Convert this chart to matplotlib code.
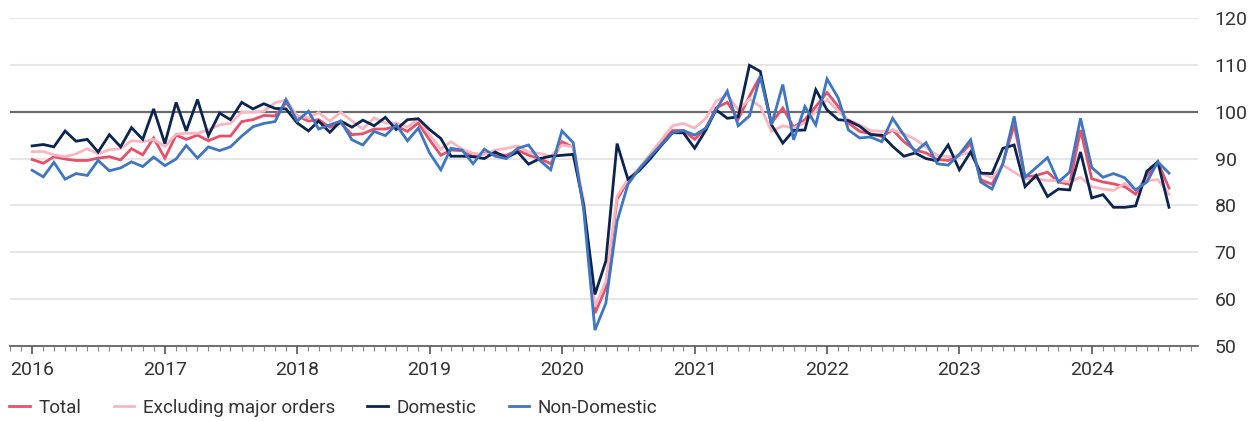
import matplotlib
matplotlib.use("Agg")
import matplotlib.dates as mdates
import pandas as pd
from matplotlib import pyplot

plt = pyplot
plt.rcParams['font.family'] = ['Roboto', 'DejaVu Sans']

# monthly index values, Jan 2016 - Aug 2024
months = pd.date_range("2016-01-01", periods=104, freq="MS")

total = [89.8, 89.0, 90.4, 89.9, 89.6, 89.6, 90.1, 90.4, 89.7, 92.1, 90.8, 94.4,
         90.1, 95.0, 94.1, 95.0, 93.8, 94.8, 94.8, 97.9, 98.3, 99.2, 99.1, 101.9,
         99.1, 98.0, 98.3, 96.7, 97.6, 95.1, 95.3, 96.3, 96.3, 96.9, 95.8, 97.6,
         94.0, 90.7, 91.8, 91.7, 90.4, 91.1, 90.9, 90.7, 91.8, 90.7, 90.0, 88.9,
         93.6, 92.4, 80.0, 57.0, 62.4, 81.3, 85.2, 87.6, 90.2, 93.5, 96.0, 96.0,
         94.1, 96.5, 100.8, 102.0, 98.4, 103.3, 107.6, 97.6, 100.8, 96.7, 98.3, 101.1,
         104.1, 101.1, 97.6, 95.8, 95.3, 94.7, 96.1, 93.6, 91.8, 91.2, 89.8, 89.6,
         90.7, 93.2, 85.5, 84.5, 88.9, 97.2, 86.0, 86.4, 87.1, 85.0, 84.5, 96.1,
         85.7, 85.0, 84.6, 84.0, 82.4, 86.4, 89.3, 83.7]

excl_major = [91.5, 91.5, 90.8, 90.4, 91.0, 92.1, 91.0, 91.9, 92.1, 93.8, 93.6, 94.1,
              92.6, 95.2, 95.4, 95.4, 96.1, 97.2, 97.5, 99.9, 99.9, 100.1, 101.9, 102.5,
              99.1, 98.7, 99.8, 98.0, 99.9, 98.0, 96.3, 98.7, 97.6, 97.6, 96.7, 98.5,
              95.1, 92.0, 93.6, 92.0, 91.1, 90.9, 91.8, 92.2, 92.7, 91.4, 91.1, 90.5,
              92.9, 92.5, 81.0, 58.4, 63.8, 82.0, 85.5, 88.0, 91.0, 94.0, 97.0, 97.5,
              96.5, 98.6, 102.2, 103.6, 100.4, 102.7, 101.1, 95.8, 97.0, 96.5, 97.7, 100.1,
              102.6, 100.1, 98.3, 97.2, 96.0, 95.8, 96.1, 95.3, 94.1, 92.5, 90.7, 90.4,
              90.7, 91.4, 86.8, 86.0, 88.6, 87.1, 85.7, 85.7, 85.3, 85.3, 85.0, 86.0,
              84.0, 83.5, 83.2, 84.7, 83.2, 85.3, 85.5, 82.4]

domestic = [92.7, 93.0, 92.5, 95.9, 93.7, 94.1, 91.4, 95.1, 92.5, 96.6, 94.1, 100.6,
            93.2, 102.0, 95.9, 102.6, 94.9, 99.7, 98.3, 102.0, 100.6, 101.7, 100.7, 100.6,
            97.6, 95.9, 98.0, 95.6, 98.0, 96.7, 98.2, 97.0, 98.8, 96.2, 98.3, 98.5,
            96.2, 94.3, 90.5, 90.5, 90.4, 90.0, 91.4, 90.2, 91.4, 88.8, 90.0, 90.5,
            90.7, 90.9, 80.0, 61.0, 68.1, 93.2, 85.6, 87.4, 90.0, 92.8, 95.5, 95.5,
            92.2, 96.1, 100.4, 98.6, 98.9, 109.9, 108.6, 97.2, 93.3, 96.0, 96.1, 104.7,
            100.4, 98.3, 98.1, 96.9, 95.1, 95.0, 92.6, 90.5, 91.2, 90.0, 89.5, 92.9,
            87.6, 91.4, 86.9, 86.8, 92.2, 92.9, 84.0, 86.4, 81.9, 83.5, 83.3, 91.4,
            81.6, 82.3, 79.6, 79.6, 79.9, 87.3, 89.3, 79.6]

non_domestic = [87.5, 86.1, 89.2, 85.6, 86.8, 86.4, 89.6, 87.4, 88.0, 89.3, 88.3, 90.3,
                88.5, 89.9, 92.8, 90.1, 92.5, 91.7, 92.5, 94.8, 96.8, 97.5, 97.9, 102.6,
                98.0, 100.1, 96.3, 97.2, 98.0, 94.0, 92.9, 95.8, 94.9, 97.2, 93.8, 96.5,
                91.2, 87.6, 92.2, 91.8, 88.9, 92.0, 90.5, 90.0, 92.2, 92.9, 89.6, 87.6,
                95.9, 93.4, 79.0, 53.4, 59.1, 76.6, 84.5, 87.8, 90.5, 93.0, 95.5, 96.0,
                95.0, 96.5, 100.4, 104.4, 97.0, 99.1, 107.6, 97.2, 105.8, 94.0, 101.1, 97.2,
                107.0, 102.9, 96.1, 94.4, 94.6, 93.6, 98.6, 95.0, 91.4, 93.4, 88.9, 88.6,
                90.9, 94.0, 85.0, 83.5, 88.9, 99.0, 86.0, 88.1, 90.2, 85.0, 87.1, 98.6,
                88.1, 86.0, 86.8, 85.9, 83.3, 85.0, 89.3, 86.9]

series_names = ["Total", "Excluding major orders", "Domestic", "Non-Domestic"]
y_ticks = [50, 60, 70, 80, 90, 100, 110, 120]

fig = plt.figure(figsize=(12.58, 4.21), dpi=100, facecolor='w')
ax = fig.add_axes([10 / 1258, 75 / 421, 1188 / 1258, 328 / 421])

# grid
for v in y_ticks[1:]:
    if v == 100:
        ax.axhline(v, color='#6b6b6b', lw=1.6, zorder=1)
    else:
        ax.axhline(v, color='#e6e6e6', lw=1.5, zorder=0)

colors = ['#e8506a', '#f9b6c0', '#0c2550', '#3d76c2']
for name, vals, c in zip(series_names, [total, excl_major, domestic, non_domestic], colors):
    ax.plot(months, vals, color=c, lw=2.0, label=name, zorder=3, solid_joinstyle='miter')

ax.set_ylim(50, 120)
ax.set_xlim(pd.Timestamp("2015-11-01"), pd.Timestamp("2024-10-20"))

for s in ['top', 'left', 'right']:
    ax.spines[s].set_visible(False)
ax.spines['bottom'].set_color('#555555')
ax.spines['bottom'].set_linewidth(1.2)

ax.yaxis.tick_right()
ax.set_yticks(y_ticks)
ax.tick_params(axis='y', length=0, pad=12, labelsize=14, labelcolor='#333333')

ax.xaxis.set_major_locator(mdates.YearLocator())
ax.xaxis.set_major_formatter(mdates.DateFormatter('%Y'))
ax.xaxis.set_minor_locator(mdates.MonthLocator())
ax.tick_params(axis='x', which='major', length=6, width=1.2, color='#555555',
               pad=5, labelsize=14, labelcolor='#333333')
ax.tick_params(axis='x', which='minor', length=3.5, width=0.8, color='#888888')

fig.legend(loc='lower left', bbox_to_anchor=(-0.006, -0.03), ncol=4, frameon=False,
           fontsize=13.6, handlelength=1.1, handletextpad=0.45, columnspacing=1.7,
           labelcolor='#333333')

plt.savefig("out.png", dpi=100)
